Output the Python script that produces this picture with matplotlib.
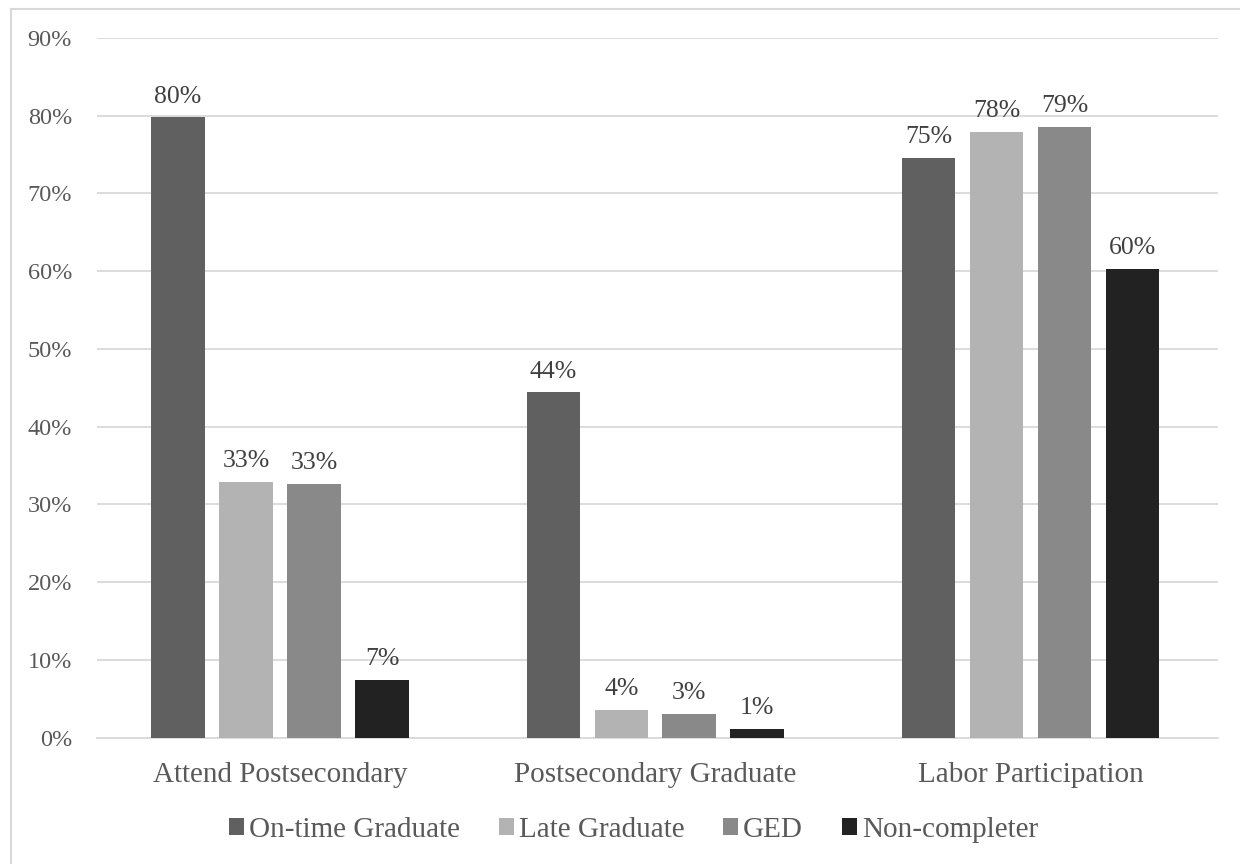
import matplotlib
matplotlib.use("Agg")
import matplotlib.pyplot as plt
from matplotlib.lines import Line2D
from matplotlib.patches import Patch
import numpy as np

categories = ["Attend Postsecondary", "Postsecondary Graduate", "Labor Participation"]
series = ["On-time Graduate", "Late Graduate", "GED", "Non-completer"]
on_time = [79.8, 44.4, 74.6]
late = [32.9, 3.6, 77.9]
ged = [32.6, 3.0, 78.6]
non_completer = [7.4, 1.1, 60.3]
values = [on_time, late, ged, non_completer]
colors = ["#606060", "#b3b3b3", "#898989", "#222222"]
yticks = list(range(0, 91, 10))

plt.rcParams['font.family'] = ['Liberation Serif', 'DejaVu Serif']
text_color = "#595959"

fig = plt.figure(figsize=(12.4, 8.64), dpi=100)
ax = fig.add_axes([97/1240, 1-737.5/864, (1218-97)/1240, (737.5-38)/864])

x = np.arange(len(categories))
step = 0.1812
width = 0.1426
for i, (vals, c, name) in enumerate(zip(values, colors, series)):
    pos = x + (i - 1.5) * step
    bars = ax.bar(pos, vals, width=width, color=c, label=name, zorder=3)
    for b, v in zip(bars, vals):
        ax.annotate(f"{v:.0f}%", (b.get_x() + b.get_width()/2, v),
                    xytext=(0, 7), textcoords="offset points",
                    ha="center", va="bottom", fontsize=18.5, color="#404040")

ax.set_xlim(-0.488, 2.5)
ax.set_ylim(0, 90)
ax.set_yticks(yticks)
ax.set_yticklabels([f"{t}%" for t in yticks])
ax.set_xticks(x)
ax.set_xticklabels(categories)
ax.tick_params(axis="both", length=0, colors=text_color)
ax.tick_params(axis="y", pad=18, labelsize=17.5)
ax.tick_params(axis="x", pad=18, labelsize=21)
ax.grid(axis="y", color="#d9d9d9", linewidth=1.3, zorder=0)
for s in ["top", "right", "left"]:
    ax.spines[s].set_visible(False)
ax.spines["bottom"].set_color("#d9d9d9")
ax.spines["bottom"].set_linewidth(1.3)

handles = [Patch(facecolor=c, edgecolor="none") for c in colors]
fig.legend(handles, series, loc="center", bbox_to_anchor=(633.5/1240, 1-830/864),
           ncol=4, frameon=False, fontsize=21, labelcolor=text_color,
           handlelength=0.51, handleheight=0.51, handletextpad=0.17, columnspacing=1.34,
           borderpad=0, borderaxespad=0)

# outer chart border (top and left visible)
fig.add_artist(Line2D([10.5/1240, 1.0], [1-9/864, 1-9/864], transform=fig.transFigure,
                      color="#d9d9d9", linewidth=1.5))
fig.add_artist(Line2D([10.5/1240, 10.5/1240], [0, 1-9/864], transform=fig.transFigure,
                      color="#d9d9d9", linewidth=1.5))

fig.savefig("out.png", dpi=100)
